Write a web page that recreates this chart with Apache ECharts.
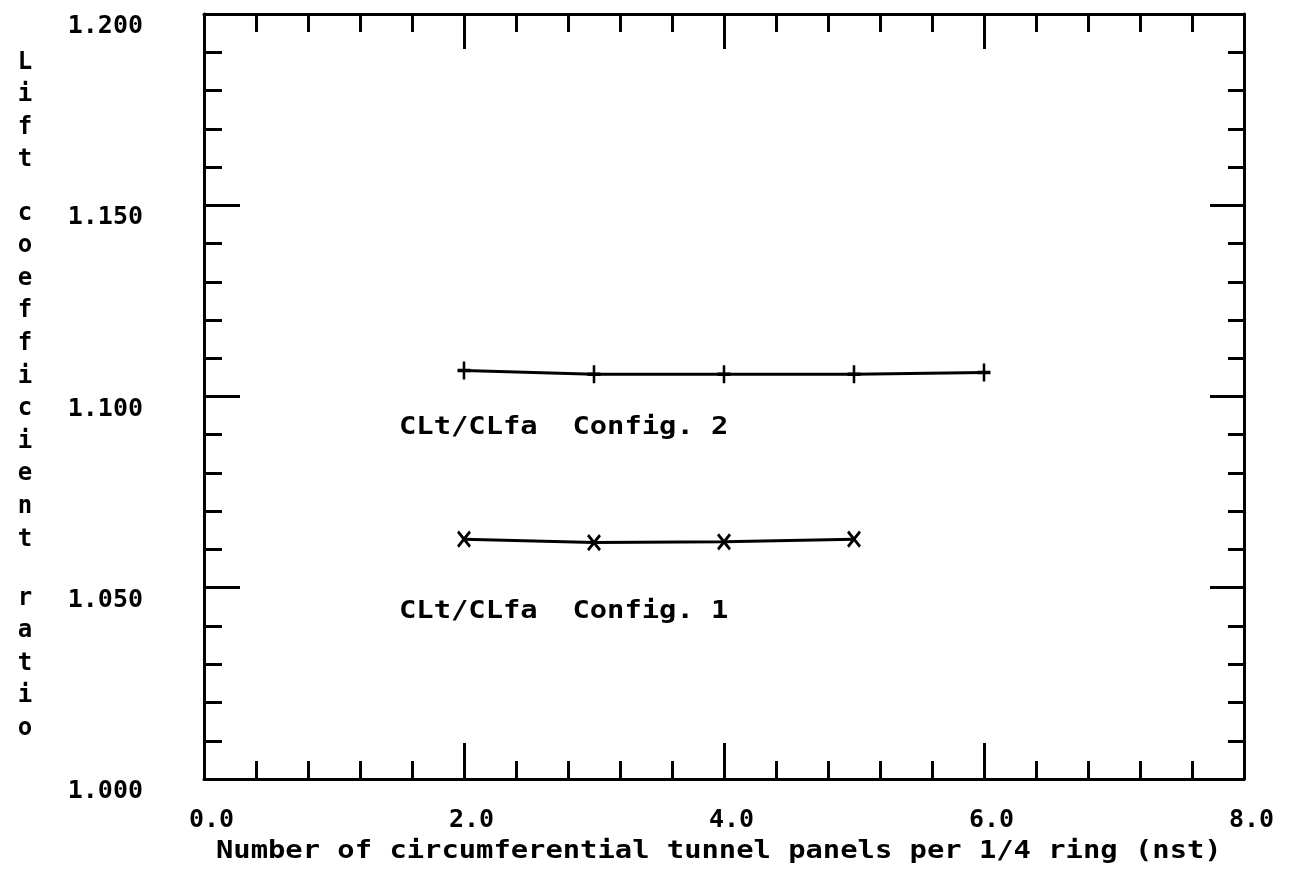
<!DOCTYPE html>
<html>
<head>
<meta charset="utf-8">
<title>Lift coefficient ratio vs nst</title>
<script src="https://cdn.jsdelivr.net/npm/echarts@6/dist/echarts.min.js"></script>
<style>
  html, body { margin: 0; padding: 0; background: #fff; }
  #chart { width: 1290px; height: 874px; }
</style>
</head>
<body>
<div id="chart"></div>
<script>
// Number of circumferential tunnel panels per 1/4 ring
const config2Nst = [2, 3, 4, 5, 6];
const config2Ratio = [1.1068, 1.1058, 1.1058, 1.1058, 1.1063];
const config1Nst = [2, 3, 4, 5];
const config1Ratio = [1.0627, 1.0618, 1.0620, 1.0627];

const xTickDigits = 1;
const yTickDigits = 3;
const yTitleWords = ['Lift', 'coefficient', 'ratio'];
const xTitle = 'Number of circumferential tunnel panels per 1/4 ring (nst)';
const config2Label = 'CLt/CLfa  Config. 2';
const config1Label = 'CLt/CLfa  Config. 1';

const FONT = '"DejaVu Sans Mono", "Liberation Mono", monospace';
const INK = '#000';

const plusSymbol = 'path://M0,-1L0,1M-1,0L1,0';
const crossSymbol = 'path://M-1,-1L1,1M1,-1L-1,1';

function zip(xs, ys) { return xs.map((x, i) => [x, ys[i]]); }

function baseAxis(extra) {
  return Object.assign({
    type: 'value',
    splitLine: { show: false },
    axisLine: { show: true, onZero: false, lineStyle: { color: INK, width: 3 } },
    minorSplitLine: { show: false }
  }, extra);
}

function ticks(major, minor) {
  return {
    axisTick: { show: true, inside: true, length: major, lineStyle: { color: INK, width: 3 } },
    minorTick: { show: true, splitNumber: 5, length: minor, lineStyle: { color: INK, width: 3 } }
  };
}

// x tick labels sit slightly right of their ticks
const xLabelStyle = {
  show: true, color: INK, fontFamily: FONT, fontWeight: 'bold', fontSize: 25,
  margin: 29, align: 'center',
  formatter: v => ' ' + v.toFixed(xTickDigits)
};
// y tick labels hang just below their ticks
const yLabelStyle = {
  show: true, color: INK, fontFamily: FONT, fontWeight: 'bold', fontSize: 25,
  margin: 61, verticalAlign: 'top', lineHeight: 25,
  formatter: v => v.toFixed(yTickDigits)
};

function wordColumn(word, topY) {
  return {
    type: 'text', x: 25, y: topY,
    style: {
      text: word.split('').join('\n'), fill: INK, font: 'bold 24px ' + FONT,
      align: 'center', verticalAlign: 'top', lineHeight: 32.6
    }
  };
}

function scaledText(text, x, y) {
  return {
    type: 'text', x: x, y: y, scaleX: 1.2,
    style: {
      text: text, fill: INK, font: 'bold 24px ' + FONT,
      align: 'left', verticalAlign: 'middle'
    }
  };
}

const chart = echarts.init(document.getElementById('chart'), null, { renderer: 'canvas' });

chart.setOption({
  backgroundColor: '#fff',
  animation: false,
  grid: { left: 204, right: 46, top: 14, bottom: 95, containLabel: false },
  xAxis: [
    baseAxis(Object.assign({
      position: 'bottom', min: 0, max: 8, interval: 2,
      axisLabel: xLabelStyle
    }, ticks(36, 18))),
    baseAxis(Object.assign({
      position: 'top', min: 0, max: 8, interval: 2,
      axisLabel: { show: false }
    }, ticks(35, 18)))
  ],
  yAxis: [
    baseAxis(Object.assign({
      position: 'left', min: 1.0, max: 1.2, interval: 0.05,
      axisLabel: yLabelStyle
    }, ticks(36, 18))),
    baseAxis(Object.assign({
      position: 'right', min: 1.0, max: 1.2, interval: 0.05,
      axisLabel: { show: false }
    }, ticks(34, 16)))
  ],
  series: [
    {
      name: config2Label, type: 'line', xAxisIndex: 0, yAxisIndex: 0,
      data: zip(config2Nst, config2Ratio),
      symbol: plusSymbol, symbolSize: [13, 18],
      lineStyle: { color: INK, width: 3 },
      itemStyle: { color: INK, borderColor: INK, borderWidth: 3 }
    },
    {
      name: config1Label, type: 'line', xAxisIndex: 0, yAxisIndex: 0,
      data: zip(config1Nst, config1Ratio),
      symbol: crossSymbol, symbolSize: [12, 15],
      lineStyle: { color: INK, width: 3 },
      itemStyle: { color: INK, borderColor: INK, borderWidth: 3 }
    }
  ],
  graphic: [
    wordColumn(yTitleWords[0], 46),
    wordColumn(yTitleWords[1], 197),
    wordColumn(yTitleWords[2], 582),
    scaledText(xTitle, 216, 852),
    scaledText(config2Label, 399, 428),
    scaledText(config1Label, 399, 612)
  ]
});
</script>
</body>
</html>
